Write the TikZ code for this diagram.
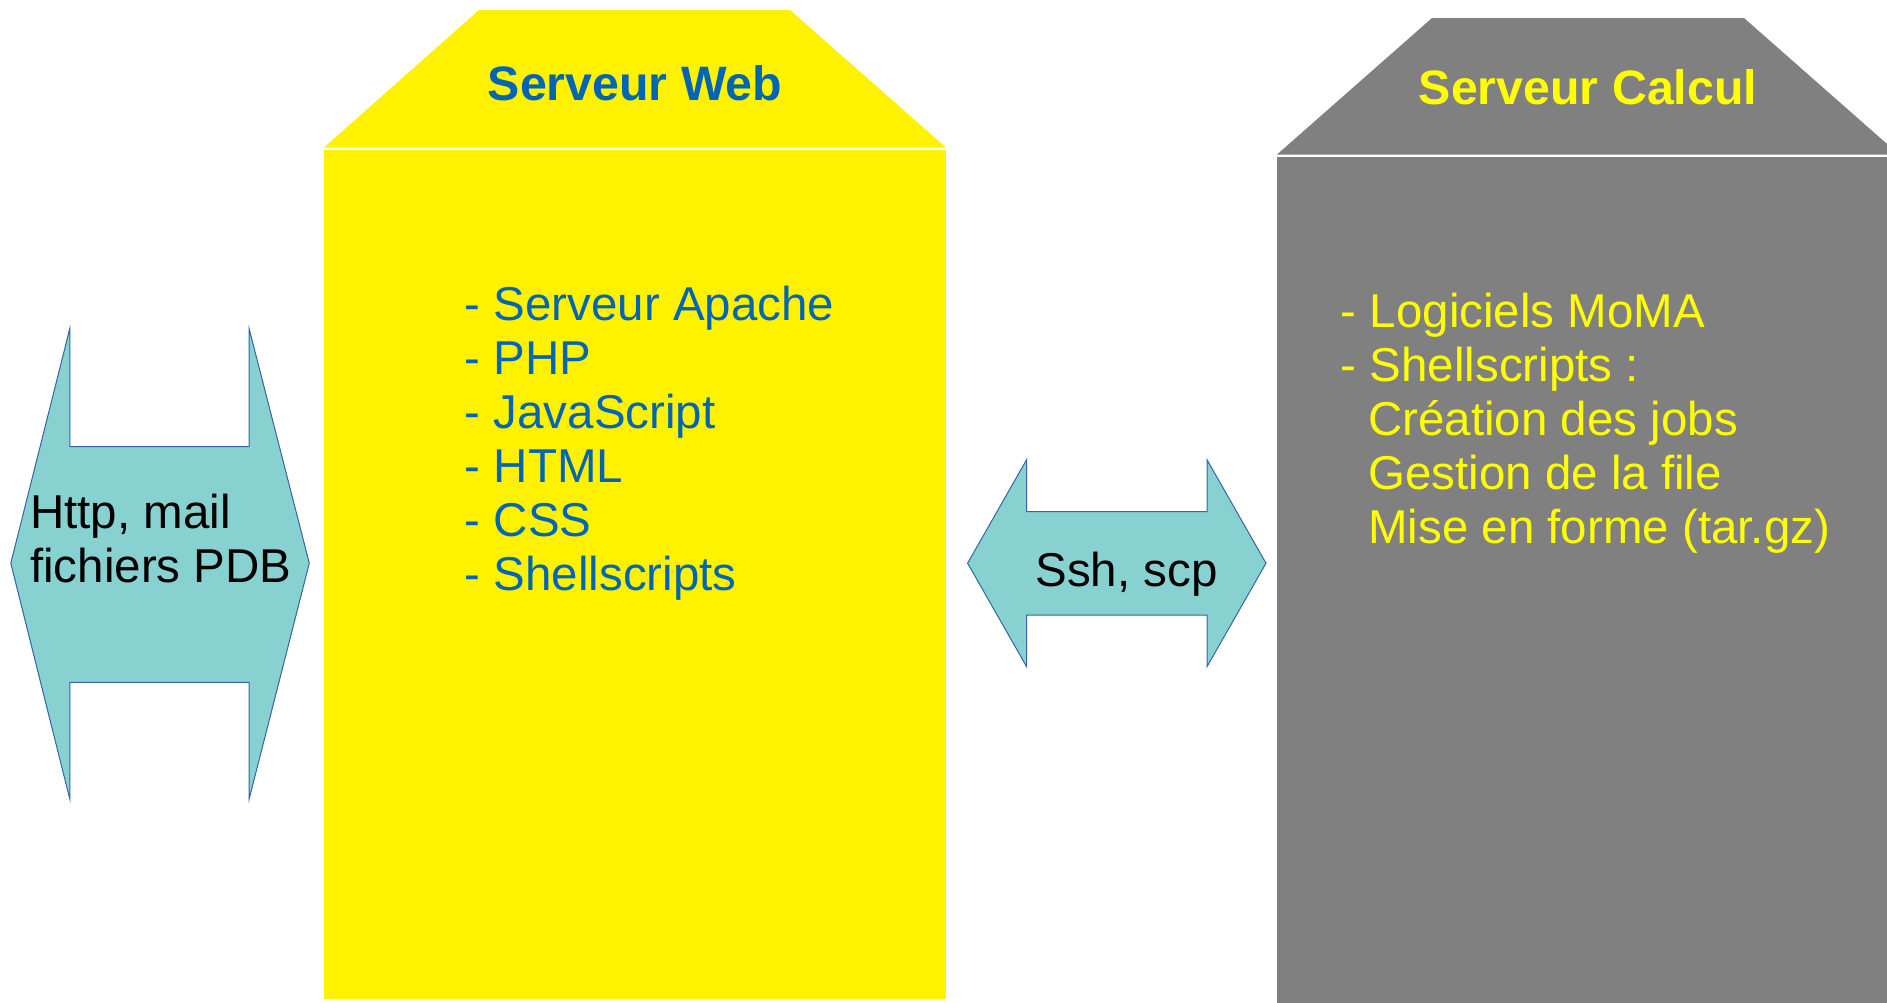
\documentclass[tikz,border=0pt]{standalone}
\usepackage{fontspec}
\setmainfont{Liberation Sans}
\definecolor{webyellow}{HTML}{FFF200}
\definecolor{calcgray}{HTML}{808080}
\definecolor{textblue}{HTML}{0066B3}
\definecolor{textyellow}{HTML}{FFFF00}
\definecolor{arrowfill}{HTML}{87D1D1}
\definecolor{arrowline}{HTML}{3465A4}
\begin{document}
\begin{tikzpicture}[x=1pt,y=-1pt,
  txt/.style={inner sep=0pt, anchor=base west, font=\fontsize{47.5}{54}\selectfont},
  ttl/.style={inner sep=0pt, anchor=base, font=\fontsize{48.3}{55}\selectfont\bfseries},
  arrowshape/.style={fill=arrowfill, draw=arrowline, line width=1pt, line join=miter}]
\useasboundingbox (0,0) rectangle (1887,1002);
% Serveur Web
\fill[webyellow] (479,10) -- (790,10) -- (946,147.5) -- (324,147.5) -- cycle;
\fill[webyellow] (324,149.5) rectangle (946,999);
\node[ttl, text=textblue] (webtitle) at (635,100) {Serveur Web};
\node[txt, text=textblue] (w1) at (464.6,320) {- Serveur Apache};
\node[txt, text=textblue] (w2) at (464.6,374) {- PHP};
\node[txt, text=textblue] (w3) at (464.6,428) {- JavaScript};
\node[txt, text=textblue] (w4) at (464.6,482) {- HTML};
\node[txt, text=textblue] (w5) at (464.6,536) {- CSS};
\node[txt, text=textblue] (w6) at (464.6,590) {- Shellscripts};
% Serveur Calcul
\fill[calcgray] (1432,18) -- (1744,18) -- (1899,154.5) -- (1277,154.5) -- cycle;
\fill[calcgray] (1277,156.5) rectangle (1899,1010);
\node[ttl, text=textyellow] (calctitle) at (1588,104.5) {Serveur Calcul};
\node[txt, text=textyellow] (c1) at (1340.7,327) {- Logiciels MoMA};
\node[txt, text=textyellow] (c2) at (1340.7,381) {- Shellscripts :};
\node[txt, text=textyellow] (c3) at (1368,435) {Création des jobs};
\node[txt, text=textyellow] (c4) at (1368,489) {Gestion de la file};
\node[txt, text=textyellow] (c5) at (1368,543) {Mise en forme (tar.gz)};
% left double arrow
\draw[arrowshape] (69.8,328.6) -- (69.8,446.5) -- (249.1,446.5) -- (249.1,328.6) -- (309.3,563.2) -- (249.1,799.1) -- (249.1,682.4) -- (69.8,682.4) -- (69.8,799.1) -- (10.8,563.2) -- cycle;
\node[txt] (l1) at (30,528) {Http, mail};
\node[txt] (l2) at (30,582) {fichiers PDB};
% middle double arrow
\draw[arrowshape] (1026.6,459.7) -- (1026.6,511.5) -- (1207,511.5) -- (1207,459.7) -- (1266,563.2) -- (1207,666.7) -- (1207,615) -- (1026.6,615) -- (1026.6,666.7) -- (967.6,563.2) -- cycle;
\node[txt, anchor=base] (ssh) at (1126.5,586) {Ssh, scp};
\end{tikzpicture}
\end{document}
